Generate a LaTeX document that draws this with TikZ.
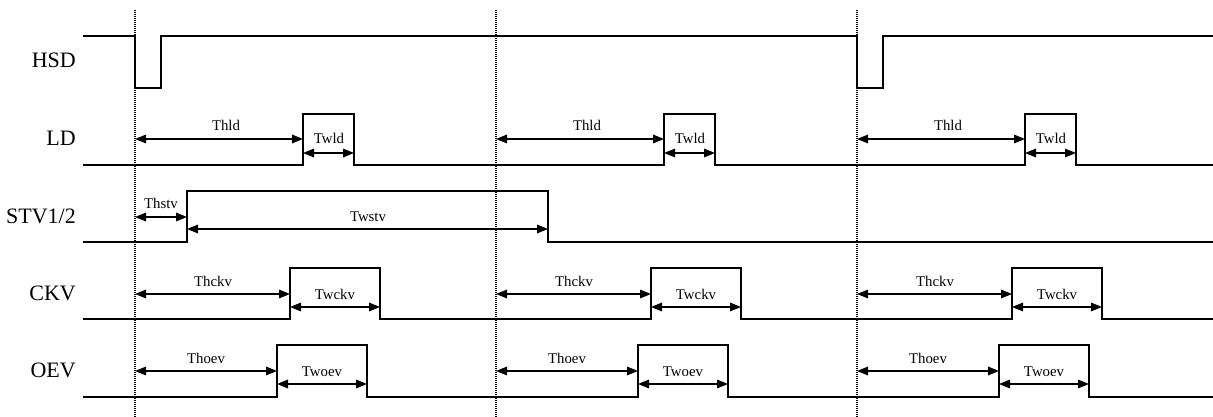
\documentclass[tikz,border=0pt]{standalone}
\usepackage{fontspec}
\setmainfont{Liberation Serif}
\usetikzlibrary{arrows.meta}
\begin{document}
\begin{tikzpicture}[x=1pt,y=-1pt,
  sig/.style={line width=1.3pt, line join=miter},
  dimarrow/.style={line width=1.2pt,{Triangle[length=11pt,width=8.6pt]}-{Triangle[length=11pt,width=8.6pt]}},
  guide/.style={line width=1.2pt, dash pattern=on 1pt off 1pt},
  signame/.style={font=\fontsize{22}{22}\selectfont, anchor=base east, inner sep=0pt},
  lab/.style={font=\fontsize{14.8}{14.8}\selectfont, anchor=base, inner sep=0pt}]
\useasboundingbox (0,0) rectangle (1213,417);

% signal names
\node[signame] (nHSD) at (76,68) {HSD};
\node[signame] (nLD)  at (76,146) {LD};
\node[signame] (nSTV) at (76,223) {STV1/2};
\node[signame] (nCKV) at (76,300) {CKV};
\node[signame] (nOEV) at (76,377) {OEV};

% guide lines
\foreach \o/\i in {0/1,361/2,722/3}{
  \coordinate (gt\i) at (135+\o,10);
  \coordinate (gb\i) at (135+\o,417);
  \draw[guide] (gt\i) -- (gb\i);
}

% waveforms
\draw[sig] (83,36) -| (135,88) -| (161,36) -| (857,88) -| (883,36) -- (1213,36);
\draw[sig] (83,165) -| (303,114) -| (354,165) -| (664,114) -| (715,165) -| (1025,114) -| (1076,165) -- (1213,165);
\draw[sig] (83,242) -| (187,191) -| (548,242) -- (1213,242);
\draw[sig] (83,319) -| (290,268) -| (380,319) -| (651,268) -| (741,319) -| (1012,268) -| (1102,319) -- (1213,319);
\draw[sig] (83,397) -| (277,345) -| (367,397) -| (638,345) -| (728,397) -| (999,345) -| (1089,397) -- (1213,397);

% STV dimensions
\coordinate (sa) at (135,217);
\coordinate (sb) at (187,217);
\coordinate (sc) at (187,229);
\coordinate (sd) at (548,229);
\draw[dimarrow] (sa) -- (sb);
\draw[dimarrow] (sc) -- (sd);
\node[lab] (lThstv) at (161,208) {Thstv};
\node[lab] (lTwstv) at (368,221) {Twstv};

% periodic dimensions
\foreach \o/\i in {0/1,361/2,722/3}{
  % LD
  \coordinate (ld0\i) at (135+\o,139);
  \coordinate (ld1\i) at (303+\o,139);
  \coordinate (ld2\i) at (303+\o,153);
  \coordinate (ld3\i) at (354+\o,153);
  \draw[dimarrow] (ld0\i) -- (ld1\i);
  \draw[dimarrow] (ld2\i) -- (ld3\i);
  \node[lab] (lThld\i) at (226+\o,131) {Thld};
  \node[lab] (lTwld\i) at (329+\o,144) {Twld};
  % CKV
  \coordinate (ck0\i) at (135+\o,294);
  \coordinate (ck1\i) at (290+\o,294);
  \coordinate (ck2\i) at (290+\o,307);
  \coordinate (ck3\i) at (380+\o,307);
  \draw[dimarrow] (ck0\i) -- (ck1\i);
  \draw[dimarrow] (ck2\i) -- (ck3\i);
  \node[lab] (lThckv\i) at (213+\o,286) {Thckv};
  \node[lab] (lTwckv\i) at (335+\o,299) {Twckv};
  % OEV
  \coordinate (oe0\i) at (135+\o,371);
  \coordinate (oe1\i) at (277+\o,371);
  \coordinate (oe2\i) at (277+\o,384);
  \coordinate (oe3\i) at (367+\o,384);
  \draw[dimarrow] (oe0\i) -- (oe1\i);
  \draw[dimarrow] (oe2\i) -- (oe3\i);
  \node[lab] (lThoev\i) at (206+\o,363) {Thoev};
  \node[lab] (lTwoev\i) at (322+\o,376) {Twoev};
}
\end{tikzpicture}
\end{document}
